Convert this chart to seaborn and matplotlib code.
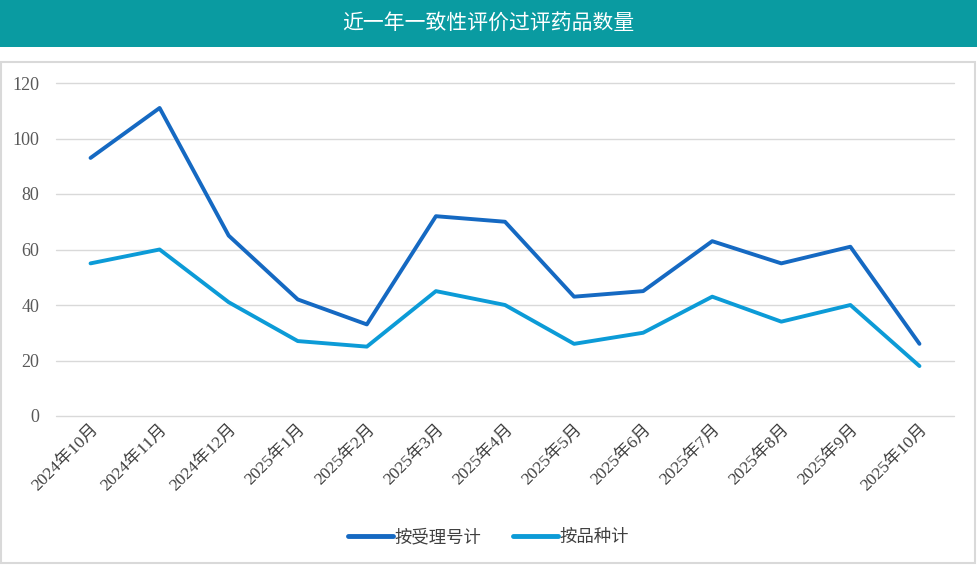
import matplotlib.pyplot as plt
import seaborn as sns
import pandas as pd
from matplotlib.patches import Rectangle

months = ['2024年10月', '2024年11月', '2024年12月', '2025年1月', '2025年2月', '2025年3月',
          '2025年4月', '2025年5月', '2025年6月', '2025年7月', '2025年8月', '2025年9月', '2025年10月']
by_accept = [93, 111, 65, 42, 33, 72, 70, 43, 45, 63, 55, 61, 26]
by_variety = [55, 60, 41, 27, 25, 45, 40, 26, 30, 43, 34, 40, 18]
series_names = ['按受理号计', '按品种计']
colors = ['#1569c2', '#0c9bd7']

df = pd.DataFrame({'month': months * 2,
                   'value': by_accept + by_variety,
                   'series': [series_names[0]] * len(months) + [series_names[1]] * len(months)})

sns.set_theme(style='white')
fonts = ['Liberation Serif', 'Noto Sans CJK SC', 'DejaVu Sans']
plt.rcParams['font.family'] = fonts

fig = plt.figure(figsize=(9.77, 5.66), dpi=100)
# title band and outer frame
fig.patches.append(Rectangle((0, 1 - 47 / 566), 1, 47 / 566, transform=fig.transFigure,
                             facecolor='#0a9ba1', edgecolor='none', zorder=0))
fig.patches.append(Rectangle((1 / 977, 3 / 566), 974 / 977, 501 / 566, transform=fig.transFigure,
                             facecolor='none', edgecolor='#d9d9d9', linewidth=1.5, zorder=0))
fig.text(0.5, 1 - 23 / 566, '近一年一致性评价过评药品数量', color='white', fontsize=15,
         ha='center', va='center', family=['Noto Sans CJK SC'])

ax = fig.add_axes([56 / 977, 150 / 566, 898 / 977, 333 / 566])
sns.lineplot(data=df, x='month', y='value', hue='series', palette=colors, linewidth=2.8,
             sort=False, ax=ax, legend=False)
ax.set_ylim(0, 120)
ax.set_xlim(-0.5, len(months) - 0.5)
ax.set_yticks(range(0, 121, 20))
ax.yaxis.grid(True, color='#d9d9d9', linewidth=1)
for gl in ax.get_ygridlines():
    gl.set_clip_on(False)
ax.set_axisbelow(True)
for s in ax.spines.values():
    s.set_visible(False)
ax.set_xlabel('')
ax.set_ylabel('')
ax.tick_params(axis='y', labelsize=13, labelcolor='#595959', pad=12, length=0)
ax.tick_params(axis='x', labelsize=12.5, labelcolor='#404040', length=0, pad=4)
ax.set_xticks(range(len(months)))
ax.set_xticklabels(months, rotation=45, ha='right', rotation_mode='anchor')

handles = [plt.Line2D([], [], color=c, linewidth=3.5) for c in colors]
leg = fig.legend(handles, series_names, loc='center', bbox_to_anchor=(0.5, 1 - 538 / 566),
                 ncol=2, frameon=False, fontsize=12.5, handlelength=2.6, columnspacing=1.8,
                 handletextpad=0.1)
for t in leg.get_texts():
    t.set_color('#404040')

fig.savefig('out.png', dpi=100)
